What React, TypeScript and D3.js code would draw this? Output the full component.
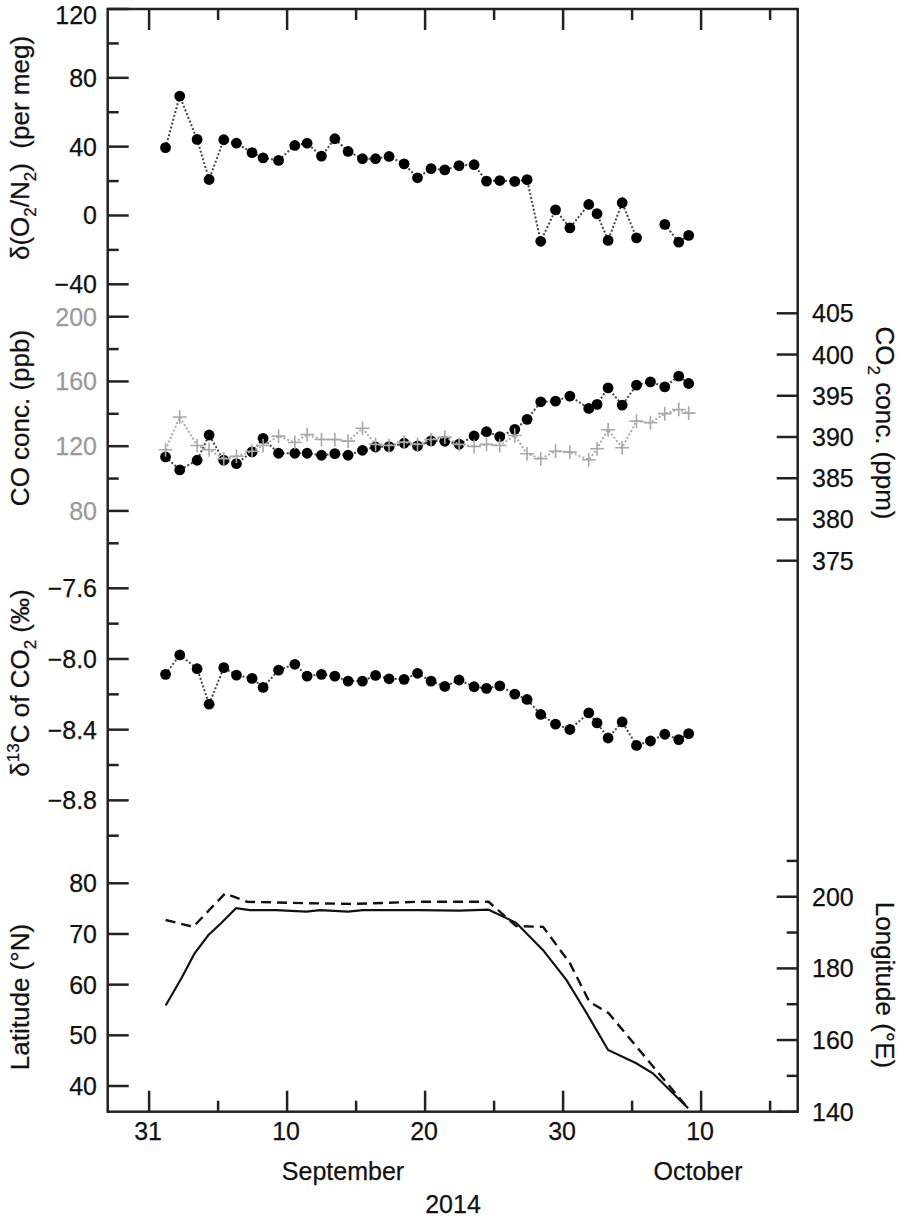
import React from "react";
import * as d3 from "d3";

// ---- data (days counted from 31 August 2014) ----
const sampleDays = [1.19, 2.22, 3.48, 4.35, 5.41, 6.33, 7.46, 8.26, 9.38, 10.56, 11.45, 12.49, 13.46, 14.42, 15.46, 16.41, 17.39, 18.48, 19.45, 20.43, 21.43, 22.46, 23.55, 24.45, 25.41, 26.5, 27.39, 28.38, 29.45, 30.49, 31.86, 32.46, 33.26, 34.28, 35.32, 36.33, 37.37, 38.38, 39.1];
const o2n2 = [39.4, 69.4, 44.2, 20.9, 44, 42, 36.5, 33.5, 32, 40.7, 42, 34.5, 44.6, 37.2, 33, 33, 34.3, 30, 21.9, 27.2, 26.5, 29, 29.5, 20, 20.3, 19.8, 20.8, -15, 3.3, -7.2, 6.4, 1, -14.5, 7.4, -13, null, -5.2, -15.5, -11.6];
const co2 = [387.58, 386.01, 387.18, 390.24, 387.18, 386.77, 388.19, 389.84, 388.03, 388.03, 388.03, 387.79, 387.98, 387.79, 388.39, 388.79, 388.83, 389.24, 388.91, 389.52, 389.48, 389.12, 390.12, 390.64, 390.04, 390.93, 392.14, 394.27, 394.35, 394.96, 393.47, 393.95, 395.96, 393.87, 396.29, 396.69, 396.08, 397.38, 396.49];
const co = [117.8, 138.0, 120.4, 117.8, 112.2, 113.8, 116.9, 120.4, 126.2, 122.3, 127.2, 124.1, 124.1, 123.1, 131.1, 121.1, 120.4, 122.5, 121.1, 124.1, 125.6, 121.1, 119.8, 121.1, 120.4, 126.6, 115.3, 112.2, 116.9, 116.3, 111.6, 118.4, 130.2, 119.0, 135.5, 134.5, 140.1, 142.7, 140.4];
const d13c = [-8.087, -7.977, -8.055, -8.256, -8.049, -8.091, -8.110, -8.161, -8.063, -8.030, -8.097, -8.087, -8.097, -8.125, -8.125, -8.093, -8.112, -8.115, -8.081, -8.125, -8.155, -8.119, -8.157, -8.166, -8.152, -8.199, -8.229, -8.314, -8.369, -8.399, -8.305, -8.362, -8.447, -8.356, -8.489, -8.464, -8.426, -8.456, -8.422];

const latDays = [1.2, 2.35, 3.3, 4.3, 5.25, 6.3, 7.3, 9.2, 11.4, 12.4, 14.4, 15.5, 19.6, 22.5, 24.6, 26.6, 28.55, 30.25, 31.7, 33.26, 35.3, 36.5, 39.06];
const latitude = [55.9, 61.3, 66.2, 69.8, 72.2, 75.1, 74.7, 74.7, 74.4, 74.7, 74.4, 74.7, 74.7, 74.6, 74.8, 72.2, 66.8, 60.9, 54.4, 47.1, 44.5, 42.5, 35.6];
const lonDays = [1.2, 3.2, 5.5, 7.1, 11.4, 14.8, 19.6, 24.6, 26.6, 28.55, 30.5, 31.9, 33.3, 39.06];
const longitude = [193.5, 191.6, 200.9, 198.6, 198.2, 198.0, 198.6, 198.6, 191.8, 191.6, 181.4, 170.7, 167.5, 140.9];

// ---- ticks ----
const xMajorTicks = [0, 10, 20, 30, 40];
const xMinorTicks = [5, 15, 25, 35, 45];
const xTickLabels = ["31", "10", "20", "30", "10"];
const o2Major = [120, 80, 40, 0, -40];
const o2Minor = [100, 60, 20, -20];
const coMajor = [200, 160, 120, 80];
const coMinor = [180, 140, 100, 60];
const d13Major = [-7.6, -8.0, -8.4, -8.8];
const d13Minor = [-7.8, -8.2, -8.6, -9.0];
const latMajor = [80, 70, 60, 50, 40];
const co2Major = [405, 400, 395, 390, 385, 380, 375];
const lonMajor = [200, 180, 160, 140];
const lonMinor = [210, 190, 170, 150];

const FONT = "'Liberation Sans', Arial, Helvetica, sans-serif";
const L = 107.7, R = 797.7, T = 9, B = 1111.7;
const MAJ = 21, MIN = 11;

const x = d3.scaleLinear().domain([-3, 47]).range([L, R]);
const yO2 = d3.scaleLinear().domain([-40, 120]).range([284.3, T]);
const yCO = d3.scaleLinear().domain([60, 200]).range([543.3, 316.7]);
const yCO2 = d3.scaleLinear().domain([375, 405]).range([560.7, 313.3]);
const yD13 = d3.scaleLinear().domain([-9.0, -7.6]).range([835.7, 588.3]);
const yLat = d3.scaleLinear().domain([40, 80]).range([1086, 883.3]);
const yLon = d3.scaleLinear().domain([140, 210]).range([B, 860.9]);

const fmtMinus = (s: string) => s.replace("-", "\u2212");

type P = { d: number; v: number | null };
const zip = (days: number[], vals: (number | null)[]): P[] => days.map((d, i) => ({ d, v: vals[i] }));

function linePath(pts: P[], ys: d3.ScaleLinear<number, number>) {
  return d3
    .line<P>()
    .defined((p) => p.v !== null)
    .x((p) => x(p.d))
    .y((p) => ys(p.v as number))(pts) as string;
}

const plusPath = d3.symbol(d3.symbolPlus, 64)() as string;

export default function App() {
  const o2Pts = zip(sampleDays, o2n2);
  const co2Pts = zip(sampleDays, co2);
  const coPts = zip(sampleDays, co);
  const d13Pts = zip(sampleDays, d13c);
  const latPts = zip(latDays, latitude);
  const lonPts = zip(lonDays, longitude);

  const leftTicks: { y: number; len: number; label?: string; color: string; ly?: number }[] = [];
  o2Major.forEach((v) => leftTicks.push({ y: yO2(v), len: MAJ, label: fmtMinus(String(v)), color: "#111", ly: v === 120 ? yO2(v) + 5.5 : undefined }));
  o2Minor.forEach((v) => leftTicks.push({ y: yO2(v), len: MIN, color: "#111" }));
  coMajor.forEach((v) => leftTicks.push({ y: yCO(v), len: MAJ, label: String(v), color: "#9a9a9a" }));
  coMinor.forEach((v) => leftTicks.push({ y: yCO(v), len: MIN, color: "#9a9a9a" }));
  d13Major.forEach((v) => leftTicks.push({ y: yD13(v), len: MAJ, label: fmtMinus(v.toFixed(1)), color: "#111" }));
  d13Minor.forEach((v) => leftTicks.push({ y: yD13(v), len: MIN, color: "#111" }));
  latMajor.forEach((v) => leftTicks.push({ y: yLat(v), len: MAJ, label: String(v), color: "#111" }));

  const rightTicks: { y: number; len: number; label?: string }[] = [];
  co2Major.forEach((v) => rightTicks.push({ y: yCO2(v), len: MAJ, label: String(v) }));
  lonMajor.forEach((v) => rightTicks.push({ y: yLon(v), len: MAJ, label: String(v) }));
  lonMinor.forEach((v) => rightTicks.push({ y: yLon(v), len: MIN }));

  const axisColor = "#222";
  const sw = 2.5;
  const txt = { fill: "#111", stroke: "#111", strokeWidth: 0.25 };

  return (
    <svg
      width={899}
      height={1220}
      style={{ position: "absolute", left: 0, top: 0, display: "block", background: "#fff" }}
      fontFamily={FONT}
    >
      <rect x={0} y={0} width={899} height={1220} fill="#fff" />

      {/* x ticks top and bottom */}
      {xMajorTicks.map((d) => (
        <g key={"xM" + d} stroke={axisColor} strokeWidth={sw}>
          <line x1={x(d)} x2={x(d)} y1={T} y2={T + MAJ} />
          <line x1={x(d)} x2={x(d)} y1={B} y2={B - MAJ} />
        </g>
      ))}
      {xMinorTicks.map((d) => (
        <g key={"xm" + d} stroke={axisColor} strokeWidth={sw}>
          <line x1={x(d)} x2={x(d)} y1={T} y2={T + MIN} />
          <line x1={x(d)} x2={x(d)} y1={B} y2={B - MIN} />
        </g>
      ))}
      {xMajorTicks.map((d, i) => (
        <text key={"xl" + d} x={x(d) - 1} y={1140} fontSize={25} textAnchor="middle" {...txt}>
          {xTickLabels[i]}
        </text>
      ))}
      <text x={343} y={1180} fontSize={25} textAnchor="middle" {...txt}>September</text>
      <text x={698} y={1180} fontSize={25} textAnchor="middle" {...txt}>October</text>
      <text x={453} y={1213} fontSize={25} textAnchor="middle" {...txt}>2014</text>

      {/* left ticks */}
      {leftTicks.map((t, i) => (
        <g key={"lt" + i}>
          <line x1={L} x2={L + t.len} y1={t.y} y2={t.y} stroke={axisColor} strokeWidth={sw} />
          {t.label && (
            <text x={97} y={t.ly ?? t.y} dy="0.36em" fontSize={25} textAnchor="end" fill={t.color} stroke={t.color} strokeWidth={0.25}>
              {t.label}
            </text>
          )}
        </g>
      ))}
      {/* right ticks */}
      {rightTicks.map((t, i) => (
        <g key={"rt" + i}>
          <line x1={R} x2={R - t.len} y1={t.y} y2={t.y} stroke={axisColor} strokeWidth={sw} />
          {t.label && (
            <text x={812} y={t.y} dy="0.36em" fontSize={25} textAnchor="start" {...txt}>
              {t.label}
            </text>
          )}
        </g>
      ))}

      {/* frame */}
      <rect x={L} y={T} width={R - L} height={B - T} fill="none" stroke={axisColor} strokeWidth={sw} />

      {/* axis titles */}
      <text transform="translate(29,148) rotate(-90)" fontSize={26} textAnchor="middle" {...txt}>
        δ(O<tspan fontSize={17} dy={7}>2</tspan>
        <tspan dy={-7}>/N</tspan>
        <tspan fontSize={17} dy={7}>2</tspan>
        <tspan dy={-7}>{")\u00a0\u00a0(per meg)"}</tspan>
      </text>
      <text transform="translate(29,418) rotate(-90)" fontSize={26} textAnchor="middle" {...txt}>
        CO conc. (ppb)
      </text>
      <text transform="translate(29,683) rotate(-90)" fontSize={26} textAnchor="middle" {...txt}>
        δ<tspan fontSize={17} dy={-10}>13</tspan>
        <tspan dy={10}>C of CO</tspan>
        <tspan fontSize={17} dy={7}>2</tspan>
        <tspan dy={-7}> (‰)</tspan>
      </text>
      <text transform="translate(29,997) rotate(-90)" fontSize={26} textAnchor="middle" {...txt}>
        Latitude (°N)
      </text>
      <text transform="translate(876,423) rotate(90)" fontSize={26} textAnchor="middle" {...txt}>
        CO<tspan fontSize={17} dy={8}>2</tspan>
        <tspan dy={-8}> conc. (ppm)</tspan>
      </text>
      <text transform="translate(876,985) rotate(90)" fontSize={26} textAnchor="middle" {...txt}>
        Longitude (°E)
      </text>

      {/* O2/N2 */}
      <path d={linePath(o2Pts, yO2)} fill="none" stroke="#444" strokeWidth={2} strokeDasharray="2,2" />
      {o2Pts.filter((p) => p.v !== null).map((p, i) => (
        <circle key={"o2" + i} cx={x(p.d)} cy={yO2(p.v as number)} r={5.4} fill="#000" />
      ))}

      {/* CO2 (black dots) */}
      <path d={linePath(co2Pts, yCO2)} fill="none" stroke="#444" strokeWidth={2} strokeDasharray="2,2" />
      {co2Pts.map((p, i) => (
        <circle key={"co2" + i} cx={x(p.d)} cy={yCO2(p.v as number)} r={5.4} fill="#000" />
      ))}
      {/* CO (gray stars) */}
      <path d={linePath(coPts, yCO)} fill="none" stroke="#aaa" strokeWidth={2} strokeDasharray="2,2" />
      {coPts.map((p, i) => (
        <path
          key={"co" + i}
          d={plusPath}
          transform={`translate(${x(p.d)},${yCO(p.v as number)})`}
          fill="none"
          stroke="#a8a8a8"
          strokeWidth={1.6}
        />
      ))}

      {/* d13C */}
      <path d={linePath(d13Pts, yD13)} fill="none" stroke="#444" strokeWidth={2} strokeDasharray="2,2" />
      {d13Pts.map((p, i) => (
        <circle key={"d13" + i} cx={x(p.d)} cy={yD13(p.v as number)} r={5.4} fill="#000" />
      ))}

      {/* latitude & longitude */}
      <path d={linePath(latPts, yLat)} fill="none" stroke="#111" strokeWidth={2.2} />
      <path d={linePath(lonPts, yLon)} fill="none" stroke="#111" strokeWidth={2.4} strokeDasharray="10,6" />
    </svg>
  );
}
